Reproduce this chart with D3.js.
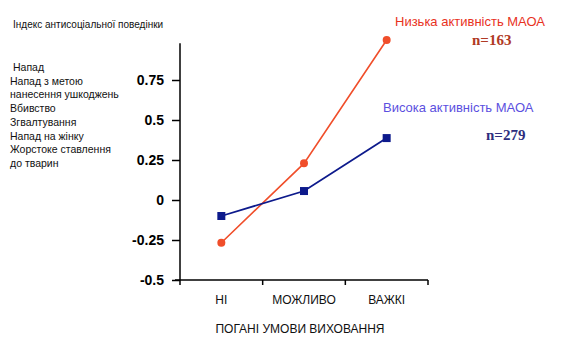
<!DOCTYPE html>
<html><head><meta charset="utf-8">
<script src="https://cdn.jsdelivr.net/npm/d3@7/dist/d3.min.js"></script>
<style>body{margin:0;background:#fff}svg{display:block}</style>
</head><body>
<script>
const categories = ["НІ", "МОЖЛИВО", "ВАЖКІ"];
const lowMAOA = [-0.267, 0.229, 1.0];
const highMAOA = [-0.1, 0.056, 0.387];
const yTicks = [-0.5, -0.25, 0, 0.25, 0.5, 0.75];
const yTickLabels = ["-0.5", "-0.25", "0", "0.25", "0.5", "0.75"];
const behaviours = ["Напад", "Напад з метою", "нанесення ушкоджень", "Вбивство", "Згвалтування", "Напад на жінку", "Жорстоке ставлення", "до тварин"];

const W = 569, H = 348;
const svg = d3.select("body").append("svg").attr("width", W).attr("height", H);
const x = d3.scaleBand().domain(categories).range([180, 428]);
const y = d3.scaleLinear().domain([-0.5, 0.75]).range([280, 80]);

// y axis
const yAxis = svg.append("g").attr("transform", "translate(180,0)")
  .call(d3.axisLeft(y).tickValues(yTicks).tickFormat((d, i) => yTickLabels[i]).tickSize(8).tickPadding(8));
yAxis.select(".domain").remove();
yAxis.selectAll("line").attr("stroke", "#000").attr("stroke-width", 1.5);
yAxis.selectAll("text").attr("font-family", "Liberation Sans, Arial, sans-serif").attr("font-weight", "bold").attr("font-size", 14).attr("fill", "#000");
svg.append("line").attr("x1", 180).attr("x2", 180).attr("y1", y(0.98)).attr("y2", y(-0.5) + 5).attr("stroke", "#000").attr("stroke-width", 1.5);

// x axis
svg.append("line").attr("x1", 175).attr("x2", x.range()[1]).attr("y1", y(-0.5)).attr("y2", y(-0.5)).attr("stroke", "#000").attr("stroke-width", 1.5);
svg.selectAll(".xt").data(categories).enter().append("line")
  .attr("x1", d => x(d) + x.bandwidth()).attr("x2", d => x(d) + x.bandwidth())
  .attr("y1", y(-0.5)).attr("y2", y(-0.5) + 5).attr("stroke", "#000").attr("stroke-width", 1.5);
svg.selectAll(".xl").data(categories).enter().append("text")
  .attr("x", d => x(d) + x.bandwidth() / 2).attr("y", 304)
  .attr("text-anchor", "middle").attr("font-family", "Liberation Sans, Arial, sans-serif").attr("font-size", 12).attr("fill", "#111").text(d => d);
svg.append("text").attr("x", 300).attr("y", 333).attr("text-anchor", "middle")
  .attr("font-family", "Liberation Sans, Arial, sans-serif").attr("font-size", 12).attr("fill", "#111").text("ПОГАНІ УМОВИ ВИХОВАННЯ");

// titles / left list
svg.append("text").attr("x", 13).attr("y", 28).attr("font-family", "Liberation Sans, Arial, sans-serif").attr("font-size", 10).attr("fill", "#111").text("Індекс антисоціальної поведінки");
svg.selectAll(".bh").data(behaviours).enter().append("text")
  .attr("x", (d, i) => i === 0 ? 13 : 10).attr("y", (d, i) => 71 + i * 13.7)
  .attr("font-family", "Liberation Sans, Arial, sans-serif").attr("font-size", 10.5).attr("fill", "#111").text(d => d);

// lines
const line = d3.line().x((d, i) => x(categories[i]) + x.bandwidth() / 2).y(d => y(d));
const red = "#f04e2a", blue = "#0d1a8c";
svg.append("path").datum(lowMAOA).attr("d", line).attr("fill", "none").attr("stroke", red).attr("stroke-width", 1.6);
svg.append("path").datum(highMAOA).attr("d", line).attr("fill", "none").attr("stroke", blue).attr("stroke-width", 1.8);
svg.selectAll(".rc").data(lowMAOA).enter().append("circle")
  .attr("cx", (d, i) => x(categories[i]) + x.bandwidth() / 2).attr("cy", d => y(d)).attr("r", 4).attr("fill", red);
svg.selectAll(".bs").data(highMAOA).enter().append("rect")
  .attr("x", (d, i) => x(categories[i]) + x.bandwidth() / 2 - 4).attr("y", d => y(d) - 4).attr("width", 8).attr("height", 8).attr("fill", blue);

// legends
svg.append("text").attr("x", 395).attr("y", 26).attr("font-family", "Liberation Sans, Arial, sans-serif").attr("font-size", 13).attr("fill", "#e8321e").text("Низька активність МАОА");
svg.append("text").attr("x", 472).attr("y", 45).attr("font-family", "Liberation Serif, Times New Roman, serif").attr("font-weight", "bold").attr("font-size", 15).attr("fill", "#b03a25").text("n=163");
svg.append("text").attr("x", 383).attr("y", 112).attr("font-family", "Liberation Sans, Arial, sans-serif").attr("font-size", 13).attr("fill", "#5b4fe0").text("Висока активність МАОА");
svg.append("text").attr("x", 486).attr("y", 140).attr("font-family", "Liberation Serif, Times New Roman, serif").attr("font-weight", "bold").attr("font-size", 15).attr("fill", "#2e2e7e").text("n=279");
</script>
</body></html>
